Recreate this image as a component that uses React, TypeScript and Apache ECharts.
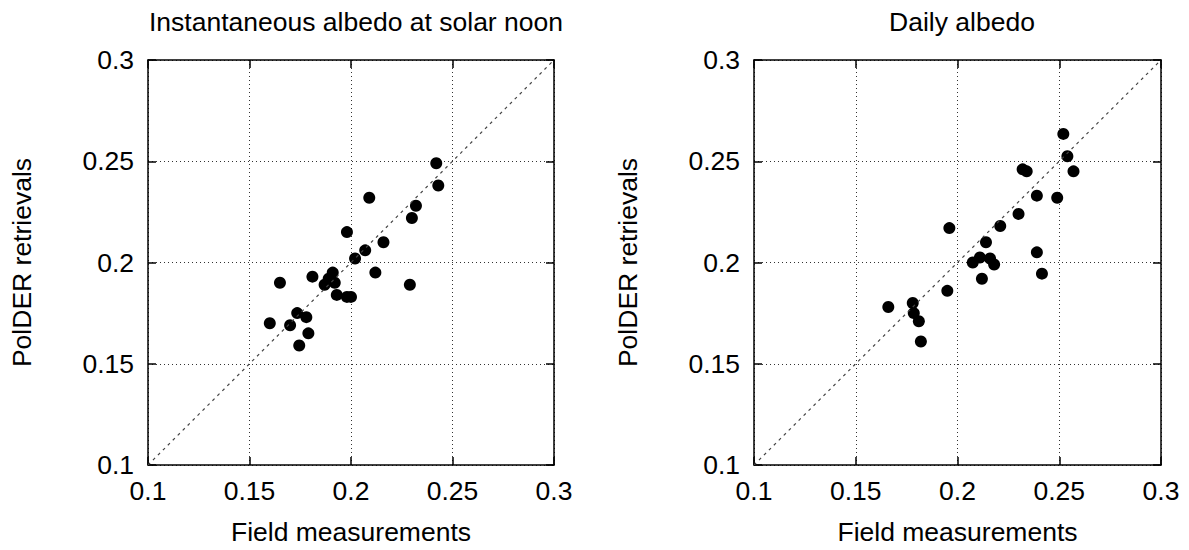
import React, { useEffect, useRef } from "react";
import * as echarts from "echarts";

const titles = ["Instantaneous albedo at solar noon", "Daily albedo"];
const xName = "Field measurements";
const yName = "PolDER retrievals";
const axisMin = 0.1;
const axisMax = 0.3;
const axisStep = 0.05;

const noonField = [0.242, 0.243, 0.209, 0.232, 0.230, 0.198, 0.216, 0.207, 0.202, 0.212, 0.229, 0.165, 0.181, 0.191, 0.189, 0.187, 0.192, 0.193, 0.198, 0.200, 0.1735, 0.178, 0.160, 0.170, 0.179, 0.1745];
const noonPolder = [0.249, 0.238, 0.232, 0.228, 0.222, 0.215, 0.210, 0.206, 0.202, 0.195, 0.189, 0.190, 0.193, 0.195, 0.192, 0.189, 0.190, 0.184, 0.183, 0.183, 0.175, 0.173, 0.170, 0.169, 0.165, 0.159];

const dailyField = [0.196, 0.221, 0.230, 0.239, 0.249, 0.232, 0.234, 0.252, 0.254, 0.257, 0.214, 0.2075, 0.211, 0.216, 0.218, 0.212, 0.239, 0.2415, 0.195, 0.166, 0.178, 0.1785, 0.181, 0.182];
const dailyPolder = [0.217, 0.218, 0.224, 0.233, 0.232, 0.246, 0.245, 0.2635, 0.2525, 0.245, 0.210, 0.200, 0.2025, 0.202, 0.199, 0.192, 0.205, 0.1945, 0.186, 0.178, 0.180, 0.175, 0.171, 0.161];

const FONT = "Liberation Sans";
const FS = 26.5;

export default function App() {
  const ref = useRef<HTMLDivElement>(null);
  useEffect(() => {
    if (!ref.current) return;
    const chart = echarts.init(ref.current, null, { renderer: "svg" });
    const grids = [
      { left: 148, top: 60, width: 406, height: 405 },
      { left: 754, top: 60, width: 407, height: 405 },
    ];
    const fmt = (v: number) => String(Math.round(v * 100) / 100);
    const xAxes: any[] = [];
    const yAxes: any[] = [];
    grids.forEach((_, g) => {
      const common = {
        gridIndex: g,
        min: axisMin,
        max: axisMax,
        interval: axisStep,
        axisLine: { show: true, onZero: false, lineStyle: { color: "#000", width: 1.5 } },
        axisTick: { show: true, inside: true, length: 8, lineStyle: { color: "#000", width: 1.5 } },
      };
      xAxes.push({
        ...common,
        type: "value",
        position: "bottom",
        name: xName,
        nameLocation: "middle",
        nameGap: 53,
        nameTextStyle: { fontFamily: FONT, fontSize: FS, color: "#000" },
        axisLabel: { fontFamily: FONT, fontSize: FS, color: "#000", margin: 12, formatter: fmt },
        splitLine: { show: true, lineStyle: { color: "#333", type: [1, 3], width: 1 } },
      });
      xAxes.push({
        ...common,
        type: "value",
        position: "top",
        axisLabel: { show: false },
        splitLine: { show: false },
      });
      yAxes.push({
        ...common,
        type: "value",
        position: "left",
        name: yName,
        nameLocation: "middle",
        nameGap: 113,
        nameRotate: 90,
        nameTextStyle: { fontFamily: FONT, fontSize: FS, color: "#000" },
        axisLabel: { fontFamily: FONT, fontSize: FS, color: "#000", margin: 14, formatter: fmt },
        splitLine: { show: true, lineStyle: { color: "#333", type: [1, 3], width: 1 } },
      });
      yAxes.push({
        ...common,
        type: "value",
        position: "right",
        axisLabel: { show: false },
        splitLine: { show: false },
      });
    });

    const diag = [
      [axisMin, axisMin],
      [axisMax, axisMax],
    ];
    const pts1 = noonField.map((x, i) => [x, noonPolder[i]]);
    const pts2 = dailyField.map((x, i) => [x, dailyPolder[i]]);

    const option: any = {
      animation: false,
      backgroundColor: "#fff",
      textStyle: { fontFamily: FONT },
      title: [
        { text: titles[0], left: 351, top: 3, textAlign: "center", textStyle: { fontFamily: FONT, fontSize: FS, fontWeight: "normal", color: "#000" } },
        { text: titles[1], left: 957, top: 3, textAlign: "center", textStyle: { fontFamily: FONT, fontSize: FS, fontWeight: "normal", color: "#000" } },
      ],
      grid: grids,
      xAxis: xAxes,
      yAxis: yAxes,
      series: [
        { type: "line", xAxisIndex: 0, yAxisIndex: 0, data: diag, symbol: "none", lineStyle: { color: "#444", width: 1.2, type: [3, 4] }, silent: true },
        { type: "scatter", xAxisIndex: 0, yAxisIndex: 0, data: pts1, symbol: "circle", symbolSize: 12, itemStyle: { color: "#000", opacity: 1 } },
        { type: "line", xAxisIndex: 2, yAxisIndex: 2, data: diag, symbol: "none", lineStyle: { color: "#444", width: 1.2, type: [3, 4] }, silent: true },
        { type: "scatter", xAxisIndex: 2, yAxisIndex: 2, data: pts2, symbol: "circle", symbolSize: 12, itemStyle: { color: "#000", opacity: 1 } },
      ],
    };
    chart.setOption(option);
    return () => chart.dispose();
  }, []);
  return (
    <div
      ref={ref}
      style={{ position: "fixed", left: 0, top: 0, width: 1189, height: 550, background: "#fff" }}
    />
  );
}
